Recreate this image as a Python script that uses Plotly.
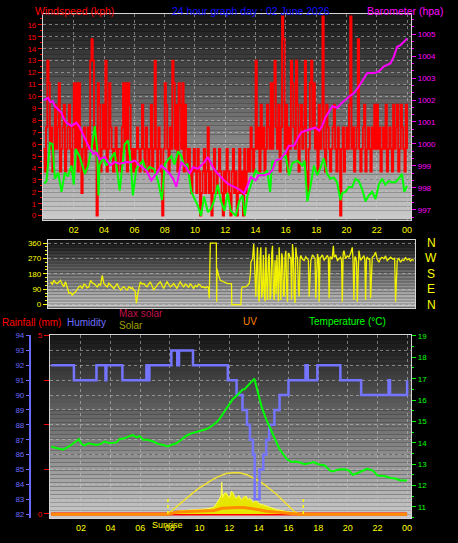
import plotly.graph_objects as go

FIG_W, FIG_H = 458, 543


def px(xp):
    return xp / FIG_W


def py(yp):
    return 1 - yp / FIG_H


# ---------------- data ----------------
hour_ticks = [2, 4, 6, 8, 10, 12, 14, 16, 18, 20, 22, 24]
hour_labels = ["02", "04", "06", "08", "10", "12", "14", "16", "18", "20", "22", "00"]

# wind gust (kph), one value every 5 minutes from 00:00 to 24:00
gust_kph = [
    5.6, 3.7, 7.4, 13.0, 11.1, 5.6, 7.4, 3.7, 5.6, 9.3, 5.6, 7.4,
    11.1, 3.7, 5.6, 7.4, 9.3, 3.7, 5.6, 7.4, 9.3, 5.6, 3.7, 7.4,
    11.1, 5.6, 11.1, 3.7, 11.1, 5.6, 1.9, 5.6, 7.4, 3.7, 5.6, 7.4,
    5.6, 13.0, 14.8, 13.0, 5.6, 7.4, 0.0, 11.1, 9.3, 3.7, 5.6, 9.3,
    5.6, 13.0, 3.7, 5.6, 11.1, 7.4, 5.6, 3.7, 5.6, 7.4, 3.7, 5.6,
    5.6, 3.7, 7.4, 11.1, 5.6, 11.1, 3.7, 11.1, 9.3, 5.6, 3.7, 5.6,
    3.7, 5.6, 7.4, 5.6, 3.7, 5.6, 9.3, 5.6, 3.7, 7.4, 5.6, 3.7,
    5.6, 9.3, 3.7, 5.6, 13.0, 5.6, 3.7, 7.4, 5.6, 3.7, 0.0, 5.6,
    11.1, 9.3, 5.6, 3.7, 7.4, 5.6, 13.0, 11.1, 5.6, 9.3, 3.7, 11.1,
    9.3, 5.6, 11.1, 3.7, 9.3, 5.6, 3.7, 5.6, 3.7, 1.9, 3.7, 5.6,
    3.7, 1.9, 5.6, 3.7, 0.0, 1.9, 3.7, 5.6, 1.9, 3.7, 7.4, 1.9,
    3.7, 0.0, 1.9, 5.6, 3.7, 1.9, 3.7, 5.6, 3.7, 1.9, 0.0, 3.7,
    1.9, 5.6, 3.7, 1.9, 0.0, 3.7, 5.6, 1.9, 3.7, 0.0, 1.9, 5.6,
    1.9, 3.7, 0.0, 5.6, 1.9, 3.7, 5.6, 3.7, 7.4, 5.6, 3.7, 5.6,
    13.0, 5.6, 7.4, 3.7, 9.3, 5.6, 7.4, 3.7, 5.6, 9.3, 7.4, 5.6,
    11.1, 5.6, 11.1, 13.0, 7.4, 5.6, 9.3, 3.7, 7.4, 16.7, 14.8, 5.6,
    9.3, 3.7, 7.4, 5.6, 13.0, 11.1, 7.4, 5.6, 13.0, 9.3, 3.7, 7.4,
    9.3, 5.6, 7.4, 13.0, 3.7, 1.9, 5.6, 11.1, 13.0, 7.4, 11.1, 5.6,
    7.4, 3.7, 9.3, 5.6, 7.4, 16.7, 5.6, 3.7, 9.3, 7.4, 5.6, 3.7,
    5.6, 7.4, 9.3, 5.6, 3.7, 7.4, 5.6, 0.0, 5.6, 7.4, 3.7, 5.6,
    7.4, 5.6, 9.3, 16.7, 5.6, 7.4, 3.7, 5.6, 7.4, 14.8, 5.6, 3.7,
    5.6, 7.4, 9.3, 3.7, 5.6, 7.4, 5.6, 3.7, 7.4, 5.6, 9.3, 5.6,
    9.3, 5.6, 7.4, 3.7, 5.6, 7.4, 5.6, 9.3, 3.7, 5.6, 7.4, 5.6,
    3.7, 9.3, 5.6, 7.4, 9.3, 3.7, 5.6, 9.3, 7.4, 5.6, 3.7, 9.3,
    5.6,
]
gust_hours = [i / 12 for i in range(len(gust_kph))]

wind_avg_hours = [
    0.05, 0.2, 0.42, 0.6, 0.75, 0.97, 1.19, 1.4, 1.6, 1.85,
    2.0, 2.13, 2.4, 2.73, 2.95, 3.17, 3.39, 3.54, 3.63, 3.7,
    3.94, 4.15, 4.4, 4.7, 5.03, 5.36, 5.58, 5.76, 5.9, 6.13,
    6.35, 6.57, 6.79, 7.0, 7.3, 7.56, 7.82, 8.0, 8.22, 8.44,
    8.65, 8.88, 9.1, 9.3, 9.5, 9.76, 9.98, 10.2, 10.4, 10.6,
    10.85, 11.07, 11.3, 11.5, 11.7, 11.95, 12.15, 12.37, 12.7, 12.92,
    13.14, 13.29, 13.47, 13.69, 14.0, 14.23, 14.55, 14.77, 14.96, 15.1,
    15.44, 15.77, 16.0, 16.21, 16.43, 16.76, 17.09, 17.24, 17.42, 17.63,
    17.85, 18.07, 18.29, 18.5, 18.72, 18.94, 19.16, 19.38, 19.61, 19.72,
    19.94, 20.16, 20.38, 20.6, 20.82, 21.04, 21.26, 21.48, 21.7, 21.92,
    22.14, 22.35, 22.57, 22.79, 23.0, 23.23, 23.45, 23.67, 23.82, 24.0,
]
wind_avg_kph = [
    2.7, 2.9, 6.1, 6.0, 3.1, 3.6, 2.0, 3.6, 3.3, 4.2,
    2.6, 5.6, 4.9, 3.5, 4.2, 5.6, 7.5, 5.6, 1.7, 4.2,
    4.9, 4.2, 4.7, 5.3, 2.1, 6.0, 6.3, 4.5, 1.7, 3.9,
    4.3, 4.6, 3.7, 4.1, 3.9, 2.9, 1.3, 4.3, 4.7, 5.0,
    4.3, 5.4, 5.0, 4.2, 4.3, 2.0, 1.4, 0.8, 0.0, 1.6,
    0.3, 0.6, 1.4, 2.6, 1.3, 0.4, 1.9, 0.4, 0.0, 1.2,
    1.7, 0.0, 1.7, 2.5, 3.8, 3.5, 3.5, 3.8, 2.0, 4.5,
    4.6, 4.9, 5.0, 3.4, 4.4, 4.6, 4.2, 4.6, 1.2, 2.5,
    4.2, 3.4, 4.0, 4.8, 3.5, 3.1, 3.2, 2.8, 1.3, 1.9,
    2.0, 2.4, 2.4, 3.1, 2.9, 2.2, 1.2, 1.7, 2.0, 1.4,
    2.6, 3.1, 2.6, 2.9, 2.8, 2.8, 3.1, 3.5, 2.0, 2.5,
]

baro_hours = [
    0.0, 0.3, 0.45, 0.6, 0.75, 0.97, 1.19, 1.3, 1.52, 1.85,
    2.17, 2.4, 2.73, 3.06, 3.28, 3.5, 3.7, 4.05, 4.4, 4.7,
    5.03, 5.47, 5.8, 6.02, 6.35, 6.79, 7.12, 7.45, 7.78, 8.0,
    8.33, 8.55, 8.77, 9.1, 9.42, 9.65, 9.87, 10.2, 10.63, 10.85,
    11.18, 11.5, 11.83, 12.15, 12.6, 13.0, 13.25, 13.47, 13.69, 14.0,
    14.2, 14.55, 14.88, 15.1, 15.33, 15.66, 16.0, 16.2, 16.54, 16.76,
    17.0, 17.3, 17.63, 17.96, 18.2, 18.4, 18.6, 18.85, 19.07, 19.4,
    19.7, 20.2, 20.5, 20.82, 21.15, 21.37, 21.8, 22.13, 22.46, 22.7,
    22.9, 23.13, 23.35, 23.57, 23.79, 24.0,
]
baro_hpa = [
    1002.0, 1002.1, 1001.9, 1001.95, 1001.72, 1001.57, 1001.42, 1001.2, 1000.97, 1000.82,
    1000.97, 1000.75, 1000.22, 999.77, 999.55, 999.6, 999.3, 999.4, 999.02, 999.17,
    999.1, 999.17, 999.17, 999.25, 999.02, 998.79, 998.34, 998.64, 999.02, 998.87,
    998.64, 998.42, 998.04, 999.17, 998.94, 998.64, 998.94, 998.87, 999.17, 999.4,
    998.94, 998.64, 998.42, 998.19, 998.04, 997.89, 997.74, 998.11, 998.49, 998.34,
    998.57, 998.57, 998.64, 998.79, 999.24, 999.32, 999.62, 999.92, 999.92, 1000.22,
    1000.52, 1000.6, 1000.67, 1000.75, 1000.6, 1000.82, 1001.2, 1001.45, 1001.72, 1001.65,
    1001.87, 1002.17, 1002.32, 1002.62, 1002.99, 1003.23, 1003.23, 1003.3, 1003.53, 1003.6,
    1003.67, 1003.98, 1004.43, 1004.5, 1004.65, 1004.8,
]

dir_hours = [
    0.0, 0.11, 0.22, 0.33, 0.44, 0.55, 0.66, 0.77, 0.88, 0.94,
    0.99, 1.1, 1.21, 1.32, 1.43, 1.54, 1.65, 1.76, 1.87, 1.98,
    2.09, 2.2, 2.31, 2.42, 2.53, 2.64, 2.75, 2.86, 2.97, 3.08,
    3.19, 3.3, 3.41, 3.46, 3.52, 3.63, 3.74, 3.85, 3.96, 4.07,
    4.18, 4.29, 4.4, 4.51, 4.62, 4.73, 4.84, 4.95, 5.05, 5.18,
    5.32, 5.4, 5.49, 5.58, 5.67, 5.75, 5.82, 5.93, 6.04, 6.15,
    6.26, 6.37, 6.48, 6.59, 6.7, 6.81, 6.92, 7.03, 7.14, 7.25,
    7.36, 7.47, 7.58, 7.69, 7.8, 7.91, 8.02, 8.13, 8.24, 8.35,
    8.46, 8.57, 8.68, 8.79, 8.9, 9.01, 9.12, 9.23, 9.34, 9.45,
    9.56, 9.67, 9.78, 9.89, 10.0, 10.11, 10.22, 10.33, 10.42, 10.48,
    10.55, 10.95, 10.97, 10.99, 11.1, 11.21, 11.32, 11.43, 11.6,
    11.69, 11.95, 11.97, 12.57, 12.62, 12.68, 12.9, 13.12, 13.2, 13.23,
    13.34, 13.42, 13.5, 13.56, 13.62, 13.67, 13.72, 13.78, 13.84, 13.89,
    13.94, 14.0, 14.06, 14.11, 14.17, 14.22, 14.28, 14.33, 14.39, 14.44,
    14.5, 14.55, 14.61, 14.66, 14.72, 14.77, 14.83, 14.9, 14.95, 15.0,
    15.05, 15.1, 15.16, 15.21, 15.27, 15.32, 15.38, 15.43, 15.49, 15.54,
    15.6, 15.65, 15.7, 15.76, 15.82, 15.87, 15.92, 15.98, 16.04, 16.09,
    16.15, 16.2, 16.26, 16.31, 16.37, 16.42, 16.48, 16.53, 16.64, 16.75,
    16.86, 16.97, 17.03, 17.08, 17.14, 17.19, 17.3, 17.41, 17.47, 17.52,
    17.58, 17.63, 17.69, 17.74, 17.8, 17.85, 17.96, 18.07, 18.18, 18.29,
    18.35, 18.4, 18.46, 18.51, 18.6, 18.68, 18.73, 18.84, 18.95, 19.05,
    19.16, 19.22, 19.27, 19.33, 19.38, 19.49, 19.6, 19.71, 19.82, 19.93,
    19.98, 20.04, 20.1, 20.15, 20.21, 20.26, 20.32, 20.37, 20.48, 20.59,
    20.7, 20.76, 20.81, 20.87, 20.92, 21.03, 21.09, 21.14, 21.2, 21.25,
    21.36, 21.47, 21.58, 21.69, 21.8, 21.89, 22.02, 22.13, 22.24, 22.35,
    22.46, 22.62, 22.73, 22.79, 22.85, 22.9, 23.01, 23.12, 23.23, 23.34,
    23.45, 23.56, 23.67, 23.78, 23.89, 24.0,
]
dir_deg = [
    133, 120, 142, 128, 123, 135, 142, 118, 104, 125,
    133, 100, 65, 72, 56, 68, 75, 90, 104, 110,
    94, 120, 114, 98, 104, 142, 128, 123, 110, 104,
    120, 114, 171, 140, 123, 112, 104, 125, 114, 100,
    94, 110, 123, 100, 85, 98, 104, 92, 85, 105,
    94, 100, 85, 80, 8, 60, 85, 133, 120, 123,
    112, 104, 120, 133, 110, 85, 100, 114, 125, 133,
    110, 94, 115, 133, 118, 104, 112, 123, 110, 94,
    118, 133, 115, 104, 120, 114, 100, 123, 110, 94,
    112, 104, 120, 114, 100, 104, 98, 104, 100, 37,
    360, 360, 17, 210, 171, 142, 138, 133, 128,
    123, 123, 0, 0, 94, 104, 104, 123, 180, 248,
    268, 354, 100, 46, 250, 335, 60, 17, 280, 335,
    40, 85, 290, 65, 20, 335, 120, 27, 270, 296,
    30, 56, 300, 344, 80, 27, 260, 60, 290, 85,
    20, 335, 40, 27, 300, 277, 60, 46, 280, 315,
    80, 17, 300, 296, 270, 277, 30, 354, 290, 56,
    10, 335, 280, 277, 90, 46, 270, 287, 265, 258,
    280, 268, 260, 46, 250, 258, 290, 277, 270, 37,
    280, 296, 270, 17, 275, 277, 290, 258, 275, 287,
    270, 37, 280, 277, 265, 344, 277, 290, 258, 270,
    277, 260, 17, 300, 315, 268, 285, 277, 300, 335,
    260, 27, 280, 277, 250, 17, 290, 315, 258, 275,
    287, 260, 27, 270, 277, 265, 270, 37, 260, 277,
    285, 306, 265, 248, 270, 277, 268, 285, 258, 270,
    277, 265, 270, 17, 250, 258, 270, 248, 262, 258,
    275, 262, 268, 255, 265, 258,
]

hum_hours = [0, 1.53, 3.05, 3.66, 3.72, 4.8, 6.42, 6.55, 6.62, 8.1,
             8.5, 8.62, 9.56, 11.91, 12.5, 12.9, 13.2, 13.4, 13.6, 13.72,
             14.05, 14.3, 14.5, 14.7, 15.05, 15.4, 16.0, 17.15, 17.3, 17.95,
             19.5, 20.9, 22.75, 22.85, 24.0]
hum_pct = [92, 91, 92, 91, 92, 91, 92, 91, 92, 93,
           92, 93, 92, 91, 90, 89, 88, 87, 86, 83,
           85, 86, 87, 88, 89, 90, 91, 92, 91, 92,
           91, 90, 91, 90, 91]

temp_hours = [
    0.0, 0.45, 0.8, 1.2, 1.6, 1.87, 2.04, 2.25, 2.5, 2.8,
    3.05, 3.35, 3.6, 3.95, 4.4, 4.6, 4.96, 5.3, 5.52, 5.75,
    5.97, 6.2, 6.53, 6.87, 7.2, 7.54, 7.87, 8.1, 8.44, 8.77,
    9.1, 9.44, 9.78, 10.12, 10.45, 10.9, 11.24, 11.4, 11.8, 12.25,
    12.6, 12.9, 13.03, 13.37, 13.7, 13.95, 14.18, 14.5, 14.84, 15.05,
    15.2, 15.4, 15.55, 15.73, 15.87, 16.2, 16.5, 16.77, 17.1, 17.44,
    17.7, 18.0, 18.45, 18.8, 19.0, 19.36, 19.8, 20.1, 20.33, 20.7,
    21.0, 21.3, 21.7, 22.0, 22.45, 22.9, 23.2, 23.55, 24.0,
]
temp_c = [
    13.82, 13.74, 13.68, 13.83, 14.02, 14.17, 13.95, 13.87, 13.98, 13.95,
    13.9, 13.95, 14.06, 13.98, 14.02, 14.17, 14.21, 14.32, 14.36, 14.25,
    14.32, 14.14, 14.14, 14.06, 13.95, 13.9, 13.83, 13.9, 13.98, 14.14,
    14.32, 14.44, 14.5, 14.55, 14.63, 14.82, 15.02, 15.17, 15.6, 16.05,
    16.26, 16.49, 16.5, 16.76, 17.0, 16.33, 15.7, 15.1, 14.56, 14.2,
    14.02, 13.7, 13.56, 13.4, 13.25, 13.1, 13.12, 13.08, 13.0, 13.05,
    13.1, 13.0, 12.94, 12.7, 12.66, 12.75, 12.76, 12.7, 12.5, 12.6,
    12.68, 12.78, 12.7, 12.47, 12.45, 12.35, 12.33, 12.24, 12.24,
]

solar_hours = [7.87, 8.2, 8.66, 9.1, 9.56, 10.0, 10.46, 10.8, 11.0, 11.12,
               11.24, 11.35, 11.45, 11.5, 11.55, 11.65, 11.8, 11.92, 12.03, 12.15,
               12.25, 12.38, 12.5, 12.65, 12.8, 12.95, 13.15, 13.26, 13.4, 13.6,
               13.8, 14.05, 14.25, 14.5, 14.75, 14.95, 15.2, 15.4, 15.85, 16.3,
               16.75]
solar_wm2 = [0, 20, 45, 50, 55, 65, 70, 85, 100, 140,
             170, 210, 260, 445, 230, 280, 300, 250, 230, 320,
             300, 240, 220, 260, 200, 230, 250, 200, 220, 160,
             190, 140, 130, 110, 90, 70, 60, 55, 40, 20,
             0]

maxsolar_hours = [7.87, 8.2, 8.66, 9.1, 9.56, 10.0, 10.45, 10.9, 11.35, 11.8,
                  12.25, 12.7, 13.24, 13.6, 13.9, 14.25, 14.58, 14.9, 15.25, 15.6,
                  15.92, 16.2, 16.38, 16.72]
maxsolar_wm2 = [0, 60, 140, 220, 295, 365, 430, 485, 530, 565,
                578, 575, 545, 510, 475, 430, 380, 325, 265, 195,
                125, 70, 35, 0]

uv_hours = [0, 7.87, 8.5, 9.5, 10.5, 11.0, 11.5, 12.0, 12.5, 13.0, 13.5, 14.0, 14.5, 15.0, 16.0, 16.75, 24]
uv_index = [0, 0, 0.3, 0.4, 0.4, 0.5, 0.8, 0.9, 0.9, 0.9, 0.8, 0.6, 0.4, 0.3, 0.2, 0, 0]

rain_hours = [0, 24]
rain_mm = [0, 0]

sunrise_hour = 7.87
sunset_hour = 17.0

for a, b in [(wind_avg_hours, wind_avg_kph), (baro_hours, baro_hpa), (dir_hours, dir_deg),
             (hum_hours, hum_pct), (temp_hours, temp_c), (solar_hours, solar_wm2),
             (maxsolar_hours, maxsolar_wm2), (uv_hours, uv_index)]:
    assert len(a) == len(b), (len(a), len(b))

# ---------------- styling ----------------
FONT = "Liberation Sans, Arial, sans-serif"
YEL = "#ffff00"
RED = "#ff0000"
MAG = "#ff00ff"
GRN = "#00ff00"
BLU = "#6a6aff"

grid = dict(showgrid=True, gridcolor="rgba(200,200,200,0.55)", griddash="dot", gridwidth=1)
frame = dict(showline=True, linecolor="#d4d4d4", linewidth=1, mirror=True, zeroline=False)


def tf(color, size=8):
    return dict(color=color, size=size, family=FONT)


fig = go.Figure()

# top panel
fig.add_trace(go.Scatter(x=gust_hours, y=gust_kph, mode="lines",
                         line=dict(color=RED, width=1.9, shape="hv"), xaxis="x", yaxis="y",
                         hoverinfo="skip"))
fig.add_trace(go.Scatter(x=wind_avg_hours, y=wind_avg_kph, mode="lines",
                         line=dict(color=GRN, width=2), xaxis="x", yaxis="y"))
fig.add_trace(go.Scatter(x=baro_hours, y=baro_hpa, mode="lines",
                         line=dict(color=MAG, width=2), xaxis="x", yaxis="y2"))
# middle panel
fig.add_trace(go.Scatter(x=dir_hours, y=dir_deg, mode="lines",
                         line=dict(color="#f2f200", width=1.3), xaxis="x2", yaxis="y3"))
# bottom panel
fig.add_trace(go.Scatter(x=rain_hours, y=rain_mm, mode="lines",
                         line=dict(color=RED, width=3), xaxis="x3", yaxis="y4"))
fig.add_trace(go.Scatter(x=solar_hours, y=solar_wm2, mode="lines", fill="tozeroy",
                         fillcolor="#e6e600", line=dict(color="#ffff50", width=1),
                         xaxis="x3", yaxis="y5"))
fig.add_trace(go.Scatter(x=maxsolar_hours, y=maxsolar_wm2, mode="lines",
                         line=dict(color="#f2e030", width=1.5), xaxis="x3", yaxis="y5"))
fig.add_trace(go.Scatter(x=uv_hours, y=uv_index, mode="lines",
                         line=dict(color="#ff8c00", width=3), xaxis="x3", yaxis="y6"))
fig.add_trace(go.Scatter(x=hum_hours, y=hum_pct, mode="lines",
                         line=dict(color="#7474ff", width=2.5, shape="hv"), xaxis="x3", yaxis="y7"))
fig.add_trace(go.Scatter(x=temp_hours, y=temp_c, mode="lines",
                         line=dict(color=GRN, width=2), xaxis="x3", yaxis="y8"))

# background gradients
shapes = []
N = 46
for xr, yr in [("x domain", "y domain"), ("x2 domain", "y3 domain"), ("x3 domain", "y4 domain")]:
    for k in range(N):
        g = int(22 + 182 * (k + 0.5) / N)
        shapes.append(dict(type="rect", xref=xr, yref=yr, x0=0, x1=1,
                           y0=1 - (k + 1) / N, y1=1 - k / N,
                           fillcolor=f"rgb({g},{g},{g})", line=dict(width=0), layer="below"))
for h in (sunrise_hour, sunset_hour):
    shapes.append(dict(type="line", xref="x3", yref="y5", x0=h, x1=h, y0=0, y1=230,
                       line=dict(color=YEL, width=1.5, dash="dot")))

annotations = []


def label(text, xp, yp, color, size=10.5, xanchor="left"):
    annotations.append(dict(text=text, x=px(xp), y=py(yp), xref="paper", yref="paper",
                            xanchor=xanchor, yanchor="middle", showarrow=False,
                            font=dict(color=color, size=size, family=FONT)))


label("Windspeed (kph)", 33, 7, RED)
label("24 hour graph day : 02 June 2026", 170, 7, "#1010ff")
label("Barometer (hpa)", 366, 7, MAG)
label("Rainfall (mm)", 0, 322, RED, 10)
label("Humidity", 65, 322, "#7070ff", 10)
label("Max solar", 117, 313, "#c0104c", 10)
label("Solar", 117, 325, "#a0a000", 10)
label("UV", 242, 321, "#ff8000", 10)
label("Temperature (°C)", 308, 321, GRN, 10)

for txt, deg in zip(["N", "W", "S", "E", "N"], [360, 270, 180, 90, 0]):
    annotations.append(dict(text=txt, x=px(432), y=deg, xref="paper", yref="y3",
                            xanchor="center", yanchor="middle", showarrow=False,
                            font=dict(color=YEL, size=12, family=FONT)))
annotations.append(dict(text="Sunrise", x=sunrise_hour, y=py(527), xref="x3", yref="paper",
                        xanchor="center", yanchor="middle", showarrow=False,
                        font=dict(color=YEL, size=9, family=FONT)))

fig.update_layout(
    width=FIG_W, height=FIG_H, autosize=False,
    margin=dict(l=0, r=0, t=0, b=0),
    paper_bgcolor="#000000", plot_bgcolor="#000000",
    showlegend=False,
    shapes=shapes, annotations=annotations,
    xaxis=dict(domain=[px(43), px(412)], range=[-0.04, 24.27], anchor="y",
               tickmode="array", tickvals=hour_ticks, ticktext=hour_labels,
               tickfont=tf(YEL, 9), ticks="outside", ticklen=2, tickcolor="rgba(0,0,0,0)",
               **grid, **frame),
    yaxis=dict(domain=[py(218), py(10)], range=[-0.33, 16.92], anchor="x",
               tick0=0, dtick=1, tickfont=tf(RED), ticks="outside", ticklen=4, tickcolor=RED,
               minor=dict(dtick=0.5, tick0=0, ticks="outside", ticklen=2, tickcolor=RED),
               **grid, **frame),
    yaxis2=dict(overlaying="y", side="right", anchor="x", range=[996.55, 1005.93],
                tick0=997, dtick=1, tickfont=tf(MAG), ticks="outside", ticklen=4, tickcolor=MAG,
                minor=dict(dtick=1 / 3, tick0=997, ticks="outside", ticklen=2, tickcolor=MAG),
                showgrid=False, zeroline=False, showline=False),
    xaxis2=dict(domain=[px(48), px(416)], range=[-0.18, 24.08], anchor="y3",
                showticklabels=False, ticks="", showgrid=False, **frame),
    yaxis3=dict(domain=[py(307), py(239)], range=[-17.3, 375.6], anchor="x2",
                tickmode="array", tickvals=[0, 90, 180, 270, 360],
                tickfont=tf(YEL), ticks="outside", ticklen=4, tickcolor=YEL,
                minor=dict(dtick=22.5, tick0=0, ticks="outside", ticklen=2, tickcolor=YEL),
                **grid, **frame),
    xaxis3=dict(domain=[px(50), px(412)], range=[-0.09, 24.27], anchor="y4",
                tickmode="array", tickvals=hour_ticks, ticktext=hour_labels,
                tickfont=tf(YEL, 9), ticks="outside", ticklen=1, tickcolor="rgba(0,0,0,0)",
                **grid, **frame),
    yaxis4=dict(domain=[py(520), py(335)], range=[-0.12, 5.005], anchor="x3",
                tickmode="array", tickvals=[0, 1.25, 2.5, 3.75, 5],
                ticktext=["0", "", "", "", "5"], tickfont=tf(RED),
                ticks="outside", ticklen=5, tickcolor=RED, showgrid=False, **frame),
    yaxis5=dict(overlaying="y4", anchor="x3", range=[-60, 2500], visible=False),
    yaxis6=dict(overlaying="y4", anchor="x3", range=[-0.55, 24], visible=False),
    yaxis7=dict(overlaying="y4", anchor="free", position=px(30), side="left",
                range=[81.72, 94.02], tick0=82, dtick=1, tickfont=tf(BLU),
                ticks="outside", ticklen=3, tickcolor=BLU,
                showline=True, linecolor=BLU, linewidth=2, zeroline=False, **grid),
    yaxis8=dict(overlaying="y4", side="right", anchor="x3", range=[10.47, 19.03],
                tick0=11, dtick=1, tickfont=tf(GRN), ticks="outside", ticklen=4, tickcolor=GRN,
                minor=dict(dtick=0.5, tick0=11, ticks="outside", ticklen=2, tickcolor=GRN),
                showgrid=False, zeroline=False, showline=False),
)

fig.write_html(
    "out.html",
    config={"displayModeBar": False},
    post_script="document.body.style.margin='0px';document.body.style.overflow='hidden';",
)
